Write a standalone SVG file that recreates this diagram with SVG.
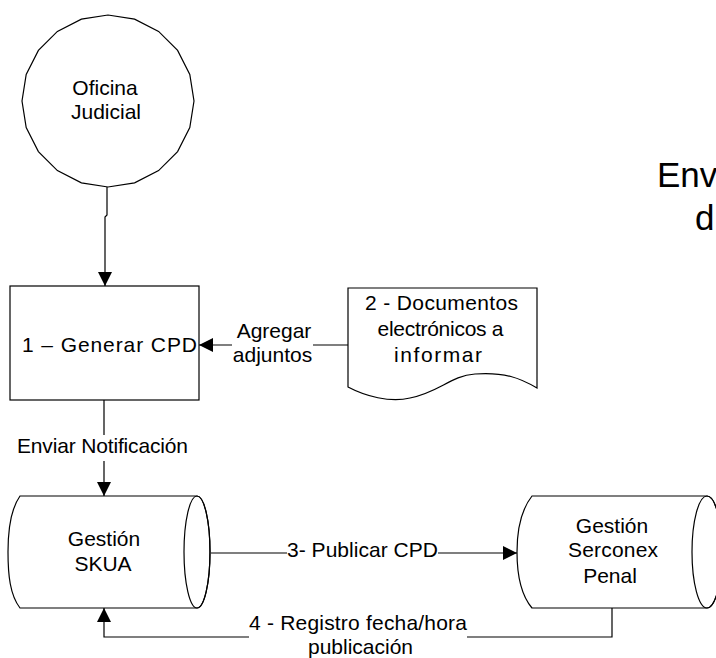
<svg xmlns="http://www.w3.org/2000/svg" width="716" height="658" viewBox="0 0 716 658">
<style>
  .s{fill:#fff;stroke:#000;stroke-width:1.2}
  .n{fill:none;stroke:#000;stroke-width:1.2}
  .c{fill:none;stroke:#000;stroke-width:1.2;marker-end:url(#ah)}
  text{font-family:"Liberation Sans",Arial,sans-serif;font-size:21px;fill:#000}
  .m{text-anchor:middle}
  .t{font-size:35px}
</style>
<defs>
  <marker id="ah" viewBox="0 0 14 14" refX="14" refY="7" markerWidth="14" markerHeight="14" markerUnits="userSpaceOnUse" orient="auto">
    <path d="M0,0 L14,7 L0,14 Z" fill="#000"/>
  </marker>
</defs>
<rect width="716" height="658" fill="#fff"/>

<g id="oficina">
  <polygon class="s" points="194,101 189.8,127.6 177.6,151.6 158.6,170.6 134.6,182.8 108,187 81.4,182.8 57.4,170.6 38.4,151.6 26.2,127.6 22,101 26.2,74.4 38.4,50.4 57.4,31.4 81.4,19.2 108,15 134.6,19.2 158.6,31.4 177.6,50.4 189.8,74.4"/>
  <text class="m" x="105" y="95">Oficina</text>
  <text class="m" x="106" y="119">Judicial</text>
</g>

<g id="generar">
  <rect class="s" x="10" y="286" width="189" height="114"/>
  <text x="22" y="352" textLength="175">1 – Generar CPD</text>
</g>

<g id="documentos">
  <path class="s" d="M348,288 L537,288 L537,388 C520,378 505,372 475,374 C450,376 440,392 410,398 C390,403 365,396 348,387 Z"/>
  <text class="m" x="441.5" y="310" textLength="153">2 - Documentos</text>
  <text class="m" x="440.5" y="336" textLength="126">electrónicos a</text>
  <text class="m" x="438" y="362" textLength="88">informar</text>
</g>

<g id="skua">
  <path class="s" d="M20,496 L197,496 A13,56 0 0 1 197,608 L20,608 C10,595 8,575 8,552 C8,530 10,510 20,496 Z"/>
  <ellipse class="n" cx="197" cy="552" rx="13" ry="56"/>
  <text class="m" x="104" y="546">Gestión</text>
  <text class="m" x="103" y="571">SKUA</text>
</g>

<g id="serconex">
  <path class="s" d="M532,496 L707,496 A15,56 0 0 1 707,608 L532,608 C521,595 517,575 517,552 C517,530 521,510 532,496 Z"/>
  <ellipse class="n" cx="707" cy="552" rx="15" ry="56"/>
  <text class="m" x="612" y="533">Gestión</text>
  <text class="m" x="613" y="557" textLength="90">Serconex</text>
  <text class="m" x="610" y="583">Penal</text>
</g>

<g id="title">
  <text class="t" x="657" y="187">Env</text>
  <text class="t" x="695" y="230">d</text>
</g>

<g id="connectors">
  <path class="c" d="M107,187 L107,215 L105,217 L105,286"/>
  <path class="c" d="M348,345 L313,345 M232,345 L199,345"/>
  <path class="c" d="M104,400 L104,435 M104,461 L104,496"/>
  <path class="c" d="M211,553 L287,553 M438,553 L517,553"/>
  <path class="c" d="M612,608 L612,637 L467,637 M249,637 L104,637 L104,608"/>
</g>

<g id="labels">
  <text class="m" x="274" y="338">Agregar</text>
  <text class="m" x="272.5" y="362">adjuntos</text>
  <text class="m" x="102.5" y="453" textLength="171">Enviar Notificación</text>
  <text x="287" y="557" textLength="151">3- Publicar CPD</text>
  <text x="249" y="630" textLength="218">4 - Registro fecha/hora</text>
  <text class="m" x="360.5" y="654">publicación</text>
</g>
</svg>
